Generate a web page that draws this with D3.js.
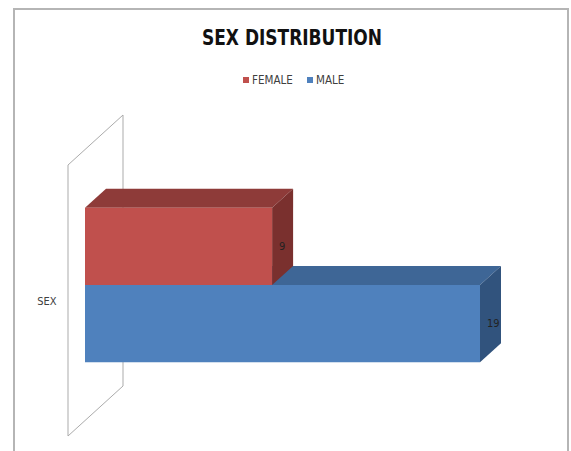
<!DOCTYPE html>
<html>
<head>
<meta charset="utf-8">
<script src="https://cdn.jsdelivr.net/npm/d3@7"></script>
<style>
  body { margin: 0; background: #fff; }
  svg { display: block; }
  text { font-family: "Liberation Sans Narrow", "Arial Narrow", "DejaVu Sans Condensed", sans-serif; }
</style>
</head>
<body>
<script>
var width = 571, height = 451;

// data
var categories = ["SEX"];
var seriesNames = ["FEMALE", "MALE"];
var seriesValues = [9, 19];
var frontColors = ["#C0504D", "#4F81BD"];
var topColors = ["#8E3B39", "#3E6696"];
var sideColors = ["#7A302E", "#31537D"];

var svg = d3.select("body").append("svg")
    .attr("width", width)
    .attr("height", height);

// chart frame (bottom edge runs off the picture)
svg.append("rect")
    .attr("x", 14).attr("y", 9)
    .attr("width", 554).attr("height", 470)
    .attr("fill", "#fff")
    .attr("stroke", "#b5b5b5")
    .attr("stroke-width", 2);

// title
svg.append("text")
    .attr("x", 292).attr("y", 45)
    .attr("text-anchor", "middle")
    .attr("textLength", 180)
    .attr("lengthAdjust", "spacingAndGlyphs")
    .style("font-size", "21px")
    .style("font-weight", "bold")
    .attr("fill", "#111")
    .text("SEX DISTRIBUTION");

// legend
var legend = svg.append("g").attr("transform", "translate(243,77)");
var legendX = [0, 64];
seriesNames.forEach((name, i) => {
  var g = legend.append("g").attr("transform", `translate(${legendX[i]},0)`);
  g.append("rect").attr("width", 6).attr("height", 6).attr("fill", frontColors[i]);
  g.append("text")
      .attr("x", 9).attr("y", 7)
      .style("font-size", "11.5px")
      .attr("fill", "#404040")
      .text(name);
});

// 3d geometry
var wallDepth = [55, -50];   // dx, dy of the back wall
var barOffset = [17, -15.5]; // bar front plane relative to wall front
var barDepth = [21, -19];

// back wall (vertical category plane)
var wallX = 68, wallTop = 165, wallBottom = 436;
svg.append("path")
    .attr("d", d3.line()([
      [wallX, wallBottom], [wallX, wallTop],
      [wallX + wallDepth[0], wallTop + wallDepth[1]],
      [wallX + wallDepth[0], wallBottom + wallDepth[1]]
    ]) + "Z")
    .attr("fill", "#fff")
    .attr("stroke", "#ababab")
    .attr("stroke-width", 1);

// scales in the bars' front plane
var x = d3.scaleLinear()
    .domain([0, 19])
    .range([85, 480]);

var yCat = d3.scaleBand()
    .domain(categories)
    .range([wallTop + barOffset[1], wallBottom + barOffset[1]])
    .paddingOuter(0.377);

var ySeries = d3.scaleBand()
    .domain(seriesNames)
    .range([0, yCat.bandwidth()]);

var bars = seriesNames.map((name, i) => ({name: name, value: seriesValues[i], i: i}));

// draw lower bar first so the upper bar's side sits on top
var barG = svg.append("g");
bars.slice().reverse().forEach(d => {
  var x0 = x(0), x1 = x(d.value);
  var y0 = yCat("SEX") + ySeries(d.name);
  var y1 = y0 + ySeries.bandwidth();
  var dx = barDepth[0], dy = barDepth[1];
  var g = barG.append("g");
  // top face
  g.append("path")
      .attr("d", d3.line()([[x0, y0], [x1, y0], [x1 + dx, y0 + dy], [x0 + dx, y0 + dy]]) + "Z")
      .attr("fill", topColors[d.i]);
  // side face
  g.append("path")
      .attr("d", d3.line()([[x1, y0], [x1 + dx, y0 + dy], [x1 + dx, y1 + dy], [x1, y1]]) + "Z")
      .attr("fill", sideColors[d.i]);
  // front face
  g.append("rect")
      .attr("x", x0).attr("y", y0)
      .attr("width", x1 - x0).attr("height", y1 - y0)
      .attr("fill", frontColors[d.i]);
  // value label
  g.append("text")
      .attr("x", x1 + 7)
      .attr("y", (y0 + y1) / 2)
      .attr("dy", "0.35em")
      .style("font-size", "11px")
      .attr("fill", "#222")
      .text(d.value);
});

// category label
svg.append("text")
    .attr("x", 47).attr("y", 301)
    .attr("dy", "0.35em")
    .attr("text-anchor", "middle")
    .style("font-size", "11px")
    .attr("fill", "#404040")
    .text(categories[0]);
</script>
</body>
</html>
